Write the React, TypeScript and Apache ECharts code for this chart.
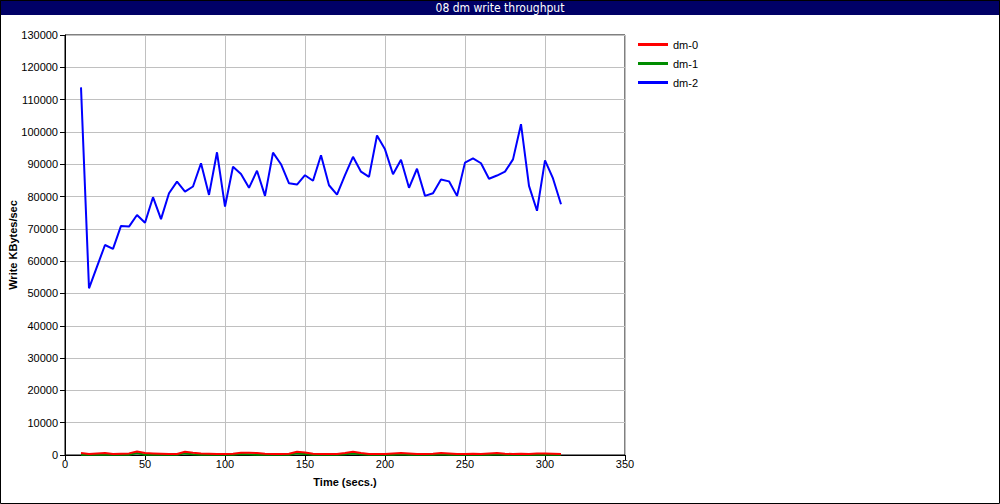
import React, { useEffect, useRef } from "react";
import * as echarts from "echarts";

const TITLE = "08 dm write throughput";
const SERIES_NAMES = ["dm-0", "dm-1", "dm-2"];
const SERIES_COLORS = ["#ff0000", "#008c00", "#0000ff"];

// time in seconds: 10, 15, ..., 310
const TIMES = [
  10, 15, 20, 25, 30, 35, 40, 45, 50, 55, 60, 65, 70, 75, 80, 85, 90, 95, 100,
  105, 110, 115, 120, 125, 130, 135, 140, 145, 150, 155, 160, 165, 170, 175,
  180, 185, 190, 195, 200, 205, 210, 215, 220, 225, 230, 235, 240, 245, 250,
  255, 260, 265, 270, 275, 280, 285, 290, 295, 300, 305, 310,
];

const DM0 = [
  600, 300, 500, 600, 300, 400, 500, 1100, 600, 500, 400, 300, 300, 1000, 700,
  500, 400, 300, 300, 400, 700, 700, 600, 400, 300, 300, 400, 1000, 800, 400,
  300, 300, 300, 600, 1000, 600, 300, 300, 300, 500, 600, 500, 300, 300, 400,
  600, 500, 300, 300, 400, 300, 500, 600, 400, 300, 400, 300, 500, 500, 400,
  300,
];

const DM1 = [
  100, 100, 100, 100, 100, 100, 100, 600, 100, 100, 100, 100, 100, 500, 200,
  100, 100, 100, 100, 100, 300, 200, 100, 100, 100, 100, 100, 500, 300, 100,
  100, 100, 100, 200, 500, 200, 100, 100, 100, 100, 200, 100, 100, 100, 100,
  200, 100, 100, 100, 100, 100, 100, 200, 100, 100, 100, 100, 100, 100, 100,
  100,
];

const DM2 = [
  113800, 51600, 58300, 65000, 63800, 70900, 70700, 74300, 71900, 79800, 73000,
  81000, 84600, 81500, 83100, 90300, 80500, 93700, 76900, 89200, 87000, 82700,
  88000, 80200, 93600, 90000, 84100, 83700, 86600, 84900, 92800, 83500, 80600,
  86600, 92300, 87700, 86100, 98900, 94600, 86900, 91400, 82700, 88600, 80200,
  81000, 85300, 84700, 80200, 90500, 91800, 90300, 85500, 86500, 87700, 91500,
  102400, 83300, 75600, 91200, 85600, 77600,
];

const X_TICKS = { min: 0, max: 350, interval: 50 };
const Y_TICKS = { min: 0, max: 130000, interval: 10000 };

const FONT = "Liberation Sans, Arial, sans-serif";

export default function App() {
  const ref = useRef<HTMLDivElement>(null);

  useEffect(() => {
    if (!ref.current) return;
    const chart = echarts.init(ref.current, undefined, { renderer: "svg" });
    const values = [DM0, DM1, DM2];
    const zs = [4, 3, 5];
    const series = SERIES_NAMES.map((name, i) => ({
      name,
      type: "line",
      data: TIMES.map((t, j) => [t, values[i][j]]),
      symbol: "none",
      z: zs[i],
      lineStyle: { color: SERIES_COLORS[i], width: 2 },
      itemStyle: { color: SERIES_COLORS[i] },
    }));

    chart.setOption({
      animation: false,
      backgroundColor: "#ffffff",
      textStyle: { fontFamily: FONT },
      graphic: [
        {
          type: "rect",
          shape: { x: 0.5, y: 0.5, width: 999, height: 503 },
          style: { fill: "none", stroke: "#000000", lineWidth: 1 },
          z: 100,
        },
        {
          type: "rect",
          shape: { x: 0, y: 0, width: 1000, height: 15 },
          style: { fill: "#000066" },
          z: 99,
        },
        {
          type: "text",
          x: 500,
          y: 8,
          style: {
            text: TITLE,
            fill: "#ffffff",
            font: "12px 'DejaVu Sans Condensed', 'Liberation Sans Narrow', sans-serif",
            textAlign: "center",
            textVerticalAlign: "middle",
          },
          z: 101,
        },
      ],
      legend: {
        orient: "vertical",
        left: 638,
        top: 35,
        icon: "rect",
        itemWidth: 30,
        itemHeight: 3,
        itemGap: 0,
        padding: 0,
        textStyle: {
          fontSize: 11,
          color: "#000000",
          lineHeight: 19,
          fontFamily: FONT,
        },
        data: SERIES_NAMES,
      },
      grid: {
        left: 65,
        top: 35,
        width: 560,
        height: 420,
        containLabel: false,
        outerBoundsMode: "none",
        show: true,
        borderColor: "#000000",
        borderWidth: 1,
        backgroundColor: "transparent",
      },
      xAxis: {
        type: "value",
        min: X_TICKS.min,
        max: X_TICKS.max,
        interval: X_TICKS.interval,
        name: "Time (secs.)",
        nameLocation: "middle",
        nameGap: 21,
        nameMoveOverlap: false,
        nameTextStyle: { fontWeight: "bold", fontSize: 11, color: "#000000" },
        axisLine: { lineStyle: { color: "#000000", width: 1 } },
        axisTick: { show: true, length: 5, lineStyle: { color: "#000000" } },
        axisLabel: {
          fontSize: 11,
          color: "#000000",
          margin: 3,
          formatter: (v: number) => String(v),
        },
        splitLine: { show: true, lineStyle: { color: "#c0c0c0", width: 1 } },
      },
      yAxis: {
        type: "value",
        min: Y_TICKS.min,
        max: Y_TICKS.max,
        interval: Y_TICKS.interval,
        name: "Write KBytes/sec",
        nameLocation: "middle",
        nameRotate: 90,
        nameGap: 47,
        nameMoveOverlap: false,
        nameTextStyle: { fontWeight: "bold", fontSize: 11, color: "#000000" },
        axisLine: { show: true, lineStyle: { color: "#000000", width: 1 } },
        axisTick: { show: true, length: 5, lineStyle: { color: "#000000" } },
        axisLabel: {
          fontSize: 11,
          color: "#000000",
          margin: 7,
          formatter: (v: number) => String(v),
        },
        splitLine: { show: true, lineStyle: { color: "#c0c0c0", width: 1 } },
      },
      series,
    });

    return () => chart.dispose();
  }, []);

  return (
    <div
      ref={ref}
      style={{ position: "fixed", left: 0, top: 0, width: 1000, height: 504 }}
    />
  );
}
